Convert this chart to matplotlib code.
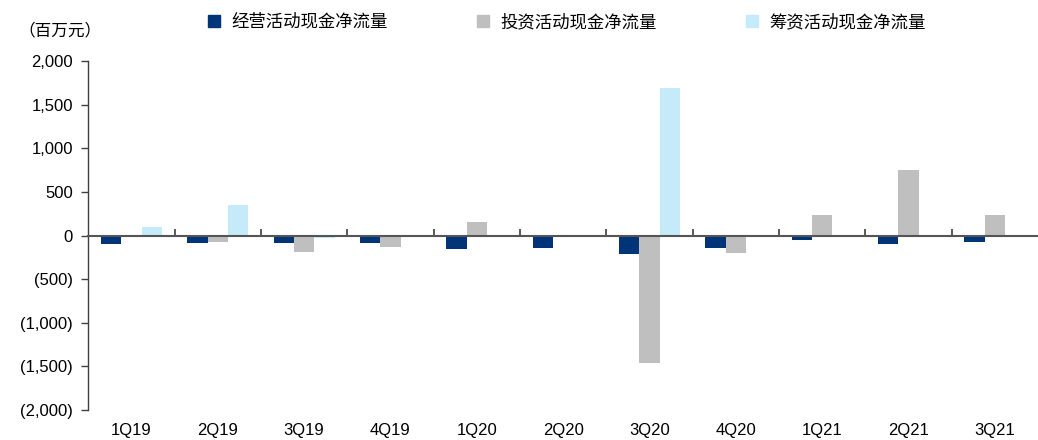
import matplotlib
matplotlib.use("Agg")
import matplotlib.pyplot as plt
from matplotlib.ticker import FuncFormatter
from matplotlib.lines import Line2D
import numpy as np

categories = ["1Q19", "2Q19", "3Q19", "4Q19", "1Q20", "2Q20", "3Q20", "4Q20", "1Q21", "2Q21", "3Q21"]
operating = [-100, -85, -90, -85, -155, -145, -210, -140, -50, -100, -75]
investing = [-20, -75, -190, -135, 155, -5, -1460, -200, 235, 755, 235]
financing = [95, 355, -30, -20, -5, -15, 1690, -10, -5, -10, 10]
series_names = ["经营活动现金净流量", "投资活动现金净流量", "筹资活动现金净流量"]
colors = ["#003478", "#BFBFBF", "#C5EBFA"]
unit_label = "（百万元）"

cjk = ["Noto Sans CJK SC", "DejaVu Sans"]
num_font = ["Liberation Sans", "DejaVu Sans"]

fig = plt.figure(figsize=(10.38, 4.4), dpi=100)
ax = fig.add_axes([0.085, 0.068, 0.915, 0.793])

x = np.arange(len(categories))
w = 0.235
for k, (vals, col) in enumerate(zip([operating, investing, financing], colors)):
    ax.bar(x + (k - 1) * w, vals, width=w, color=col, label=series_names[k], zorder=2)

ax.set_xlim(-0.5, len(categories) - 0.5)
ax.set_ylim(-2000, 2000)
ax.set_yticks(np.arange(-2000, 2001, 500))

def fmt(v, pos):
    if v < 0:
        return "({:,.0f})".format(-v)
    return "{:,.0f}".format(v)

ax.yaxis.set_major_formatter(FuncFormatter(fmt))
for s in ["top", "right", "bottom"]:
    ax.spines[s].set_visible(False)
ax.spines["left"].set_color("#404040")
ax.spines["left"].set_linewidth(1.0)
ax.tick_params(axis="y", direction="out", length=5, width=1, color="#404040",
               labelsize=12, pad=6)
ax.set_xticks(x)
ax.set_xticklabels(categories)
ax.tick_params(axis="x", length=0, labelsize=12, pad=9)
for lab in ax.get_xticklabels() + ax.get_yticklabels():
    lab.set_fontfamily(num_font)

# zero axis line with category boundary ticks
sec = ax.secondary_xaxis(0.5)
sec.set_zorder(5)
sec.set_xticks(np.arange(0.5, len(categories) - 0.5, 1.0))
sec.tick_params(axis="x", direction="out", length=5, width=1.2, color="#404040",
                labelbottom=False, labeltop=False)
sec.spines["bottom"].set_color("#555555")
sec.spines["bottom"].set_linewidth(1.5)
sec.spines["top"].set_color("#555555")
sec.spines["top"].set_linewidth(1.5)

fig.text(0.018, 0.93, unit_label, fontsize=12, family=cjk, va="center", ha="left")

handles = [Line2D([0], [0], marker="s", linestyle="none", markersize=9,
                  markerfacecolor=c, markeredgecolor=c) for c in colors]
fig.legend(handles, series_names, loc="center", bbox_to_anchor=(0.545, 0.95),
           ncol=3, frameon=False, prop={"family": cjk, "size": 12.5},
           columnspacing=5.0, handletextpad=0.5, handlelength=1.0)

fig.savefig("out.png", dpi=100)
